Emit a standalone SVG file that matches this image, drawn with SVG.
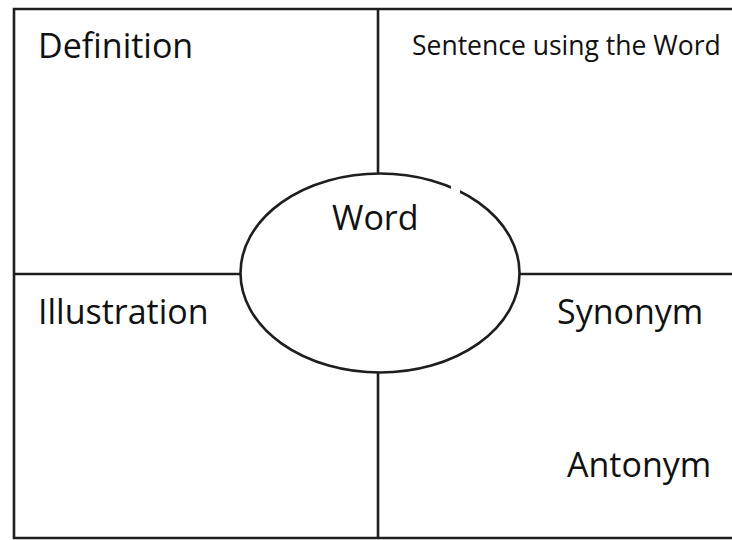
<svg xmlns="http://www.w3.org/2000/svg" width="732" height="540" viewBox="0 0 732 540">
<style>
.ln{stroke:#1e1e1e;stroke-width:2.6;fill:none}
.t{font-family:"Open Sans","Liberation Sans",sans-serif;fill:#111;font-size:34px}
</style>
<rect width="732" height="540" fill="#fff"/>
<g id="connectors">
<polyline class="ln" points="732,9 14,9 14,538 732,538"/>
<line class="ln" x1="378" y1="9" x2="378" y2="174"/>
<line class="ln" x1="378" y1="372" x2="378" y2="538"/>
<line class="ln" x1="14" y1="274" x2="241" y2="274"/>
<line class="ln" x1="519" y1="274" x2="732" y2="274"/>
</g>
<g id="word">
<ellipse class="ln" cx="380" cy="273" rx="139.5" ry="99.5" fill="#fff"/>
<rect x="451" y="184" width="9" height="14" fill="#fff"/>
<text class="t" x="332" y="230">Word</text>
</g>
<g id="definition"><text class="t" x="38" y="58">Definition</text></g>
<g id="sentence"><text class="t" x="412" y="55" style="font-size:26.5px">Sentence using the Word</text></g>
<g id="illustration"><text class="t" x="38" y="324">Illustration</text></g>
<g id="synonym"><text class="t" x="557" y="324">Synonym</text></g>
<g id="antonym"><text class="t" x="567" y="477">Antonym</text></g>
</svg>
